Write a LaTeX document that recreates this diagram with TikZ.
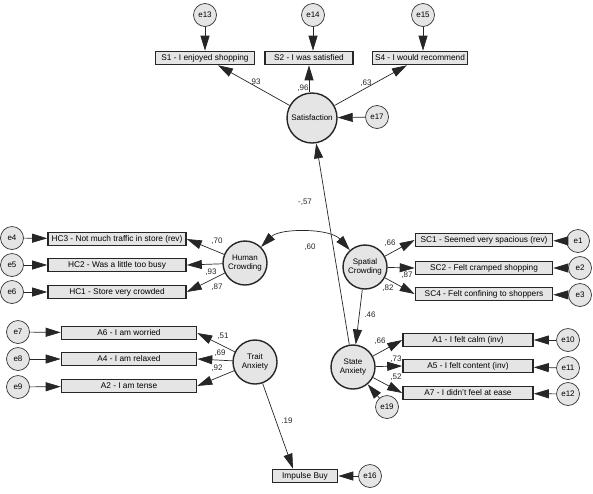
\documentclass[tikz,border=0pt]{standalone}
\usepackage{fontspec}
\setmainfont{Liberation Sans}
\usetikzlibrary{arrows.meta,calc}
\begin{document}
\begin{tikzpicture}[x=1pt,y=-1pt,
 obs/.style={draw=black!85,line width=1.6pt,fill=black!10,minimum height=13pt,inner sep=0pt,font=\fontsize{8.3}{9}\selectfont},
 lat/.style={circle,draw=black!85,line width=1.4pt,fill=black!10,minimum size=44pt,inner sep=0pt,align=center,font=\fontsize{8}{9.5}\selectfont},
 err/.style={circle,draw=black!80,line width=0.7pt,fill=black!10,minimum size=23pt,inner sep=0pt,font=\fontsize{8}{9}\selectfont},
 arr/.style={-{Triangle[length=15pt,width=9pt]},line width=0.7pt,draw=black!85},
 darr/.style={{Triangle[length=15pt,width=9pt]}-{Triangle[length=15pt,width=9pt]},line width=0.7pt,draw=black!85},
 lbl/.style={font=\fontsize{8}{9}\selectfont,inner sep=1pt,text=black!85}]
\useasboundingbox (0,0) rectangle (593,493);
% Satisfaction block
\node[lat,minimum size=50pt] (sat) at (312,118) {Satisfaction};
\node[obs,minimum width=99pt] (s1) at (205,58) {S1 - I enjoyed shopping};
\node[obs,minimum width=88pt] (s2) at (309,58) {S2 - I was satisfied};
\node[obs,minimum width=95pt] (s4) at (420,58) {S4 - I would recommend};
\node[err] (e13) at (205,15) {e13};
\node[err] (e14) at (313,15) {e14};
\node[err] (e15) at (423,15) {e15};
\node[err] (e17) at (377,117) {e17};
% Human crowding
\node[lat] (hc) at (245,263) {Human\\Crowding};
\node[obs,minimum width=138pt] (hc3) at (117,239) {HC3 - Not much traffic in store (rev)};
\node[obs,minimum width=138pt] (hc2) at (117,265) {HC2 - Was a little too busy};
\node[obs,minimum width=138pt] (hc1) at (117,292) {HC1 - Store very crowded};
\node[err] (e4) at (12,238) {e4};
\node[err] (e5) at (12,265) {e5};
\node[err] (e6) at (12,292) {e6};
% Spatial crowding
\node[lat] (sc) at (365,267) {Spatial\\Crowding};
\node[obs,minimum width=137pt] (sc1) at (484,240) {SC1 - Seemed very spacious (rev)};
\node[obs,minimum width=137pt] (sc2) at (484,268) {SC2 - Felt cramped shopping};
\node[obs,minimum width=137pt] (sc4) at (484,294) {SC4 - Felt confining to shoppers};
\node[err] (e1) at (578,241) {e1};
\node[err] (e2) at (580,268) {e2};
\node[err] (e3) at (580,295) {e3};
% Trait anxiety
\node[lat] (ta) at (255,362) {Trait\\Anxiety};
\node[obs,minimum width=135pt] (a6) at (129,333) {A6 - I am worried};
\node[obs,minimum width=135pt] (a4) at (129,359) {A4 - I am relaxed};
\node[obs,minimum width=135pt] (a2) at (129,386) {A2 - I am tense};
\node[err] (e7) at (18,332) {e7};
\node[err] (e8) at (18,359) {e8};
\node[err] (e9) at (18,387) {e9};
% State anxiety
\node[lat] (st) at (353,367) {State\\Anxiety};
\node[obs,minimum width=130pt] (a1) at (468,340) {A1 - I felt calm (inv)};
\node[obs,minimum width=130pt] (a5) at (468,366) {A5 - I felt content (inv)};
\node[obs,minimum width=130pt] (a7) at (468,393) {A7 - I didn't feel at ease};
\node[err] (e10) at (568,340) {e10};
\node[err] (e11) at (568,368) {e11};
\node[err] (e12) at (568,394) {e12};
\node[err] (e19) at (387,407) {e19};
% Impulse buy
\node[obs,minimum width=65pt] (imp) at (305,476) {Impulse Buy};
\node[err] (e16) at (370,476) {e16};
% connectors
\draw[arr] (e13) -- (s1);
\draw[arr] (e14) -- (e14 |- s2.north);
\draw[arr] (e15) -- (e15 |- s4.north);
\draw[arr] (e17) -- (sat);
\draw[arr] (sat) -- (s1);
\draw[arr] (sat.north -| s2) -- (s2);
\draw[arr] (sat) -- (s4);
\draw[arr] (e4) -- (hc3);
\draw[arr] (e5) -- (hc2);
\draw[arr] (e6) -- (hc1);
\draw[arr] (hc) -- (hc3.east);
\draw[arr] (hc) -- (hc2.east);
\draw[arr] (hc) -- (hc1.east);
\draw[arr] (e1) -- (sc1);
\draw[arr] (e2) -- (sc2);
\draw[arr] (e3) -- (sc4);
\draw[arr] (sc) -- (sc1.west);
\draw[arr] (sc) -- (sc2.west);
\draw[arr] (sc) -- (sc4.west);
\draw[arr] (e7) -- (a6);
\draw[arr] (e8) -- (a4);
\draw[arr] (e9) -- (a2);
\draw[arr] (ta) -- (a6.east);
\draw[arr] (ta) -- (a4.east);
\draw[arr] (ta) -- (a2.east);
\draw[arr] (e10) -- (a1);
\draw[arr] (e11) -- (a5);
\draw[arr] (e12) -- (a7);
\draw[arr] (st) -- (a1.west);
\draw[arr] (st) -- (a5.west);
\draw[arr] (st) -- (a7.west);
\draw[arr] (e19) -- (st);
\draw[arr] (sc) -- (st);
\draw[arr] (st) -- (sat);
\draw[arr] (ta) -- ([xshift=-12pt]imp.north);
\draw[arr] (e16) -- (imp);
\draw[darr] (hc) .. controls (280,228) and (330,228) .. (sc);
% labels
\node[lbl] at (255,82) {.93};
\node[lbl] at (303,88) {,96};
\node[lbl] at (366,83) {,63};
\node[lbl] at (217,241) {,70};
\node[lbl] at (211,272) {,93};
\node[lbl] at (217,287) {,87};
\node[lbl] at (390,243) {,66};
\node[lbl] at (407,275) {,87};
\node[lbl] at (388,288) {,82};
\node[lbl] at (310,247) {,60};
\node[lbl] at (305,202) {-,57};
\node[lbl] at (223,336) {,51};
\node[lbl] at (220,353) {,69};
\node[lbl] at (217,368) {,92};
\node[lbl] at (370,315) {.46};
\node[lbl] at (380,341) {,66};
\node[lbl] at (396,359) {,73};
\node[lbl] at (396,377) {,52};
\node[lbl] at (287,421) {.19};
\end{tikzpicture}
\end{document}
